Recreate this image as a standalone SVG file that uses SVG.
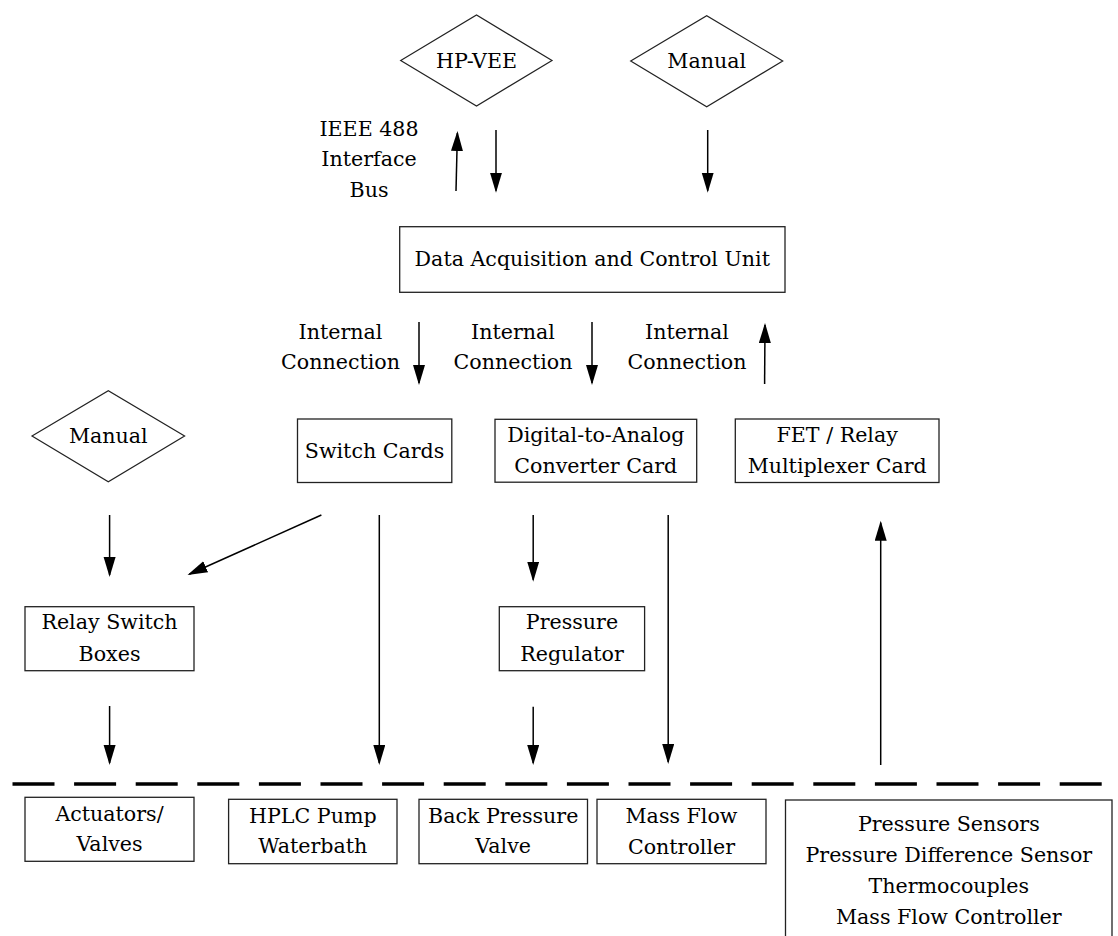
<svg xmlns="http://www.w3.org/2000/svg" width="1118" height="936" viewBox="0 0 1118 936">
<style>
text{font-family:'DejaVu Serif','Noto Serif',serif;font-size:20.6px;fill:#000;text-anchor:middle}
.box{fill:#fff;stroke:#222;stroke-width:1.3}
.dia{fill:#fff;stroke:#222;stroke-width:1.2}
.ar{stroke:#000;stroke-width:1.5;fill:none;marker-end:url(#ah)}
.dash{stroke:#000;stroke-width:3.6;stroke-dasharray:42 19.6;fill:none}
</style>
<defs>
<marker id="ah" markerUnits="userSpaceOnUse" markerWidth="22" markerHeight="14" refX="18" refY="6" orient="auto" viewBox="0 0 22 14">
<path d="M0,0 L20,6 L0,12 z" fill="#000"/>
</marker>
</defs>
<rect width="1118" height="936" fill="#fff"/>

<g id="hpvee">
<polygon class="dia" points="400.7,60.5 476.5,15 552,60.5 476.5,106"/>
<text x="476.5" y="67.5">HP-VEE</text>
</g>
<g id="manual-top">
<polygon class="dia" points="630.7,61 706.7,15.7 782.7,61 706.7,106.7"/>
<text x="706.7" y="67.5">Manual</text>
</g>
<g id="ieee-label">
<text x="369" y="135.5">IEEE 488</text>
<text x="369" y="166">Interface</text>
<text x="369" y="197">Bus</text>
</g>
<g id="dacu">
<rect class="box" x="399.7" y="226.7" width="385.3" height="65.6"/>
<text x="592.3" y="265.5">Data Acquisition and Control Unit</text>
</g>
<g id="internal-labels">
<text x="340.5" y="339">Internal</text>
<text x="340.5" y="369">Connection</text>
<text x="513" y="339">Internal</text>
<text x="513" y="369">Connection</text>
<text x="687" y="339">Internal</text>
<text x="687" y="369">Connection</text>
</g>
<g id="manual-left">
<polygon class="dia" points="32,436 108.3,390.7 184.6,436 108.3,481.7"/>
<text x="108.3" y="442.5">Manual</text>
</g>
<g id="switch-cards">
<rect class="box" x="297.5" y="419" width="154.3" height="63.5"/>
<text x="374.6" y="457.5">Switch Cards</text>
</g>
<g id="dac-card">
<rect class="box" x="495" y="419.3" width="201.7" height="62.9"/>
<text x="595.8" y="441.7">Digital-to-Analog</text>
<text x="595.8" y="472.5">Converter Card</text>
</g>
<g id="fet-card">
<rect class="box" x="735.3" y="419" width="203.7" height="63.5"/>
<text x="837.2" y="442">FET / Relay</text>
<text x="837.2" y="473">Multiplexer Card</text>
</g>
<g id="relay-boxes">
<rect class="box" x="25" y="606.7" width="169" height="64"/>
<text x="109.5" y="629">Relay Switch</text>
<text x="109.5" y="660.5">Boxes</text>
</g>
<g id="pressure-regulator">
<rect class="box" x="499.3" y="606.7" width="145.3" height="64"/>
<text x="572" y="629">Pressure</text>
<text x="572" y="660.5">Regulator</text>
</g>
<g id="actuators">
<rect class="box" x="25" y="797.3" width="169" height="64"/>
<text x="109.5" y="820.7">Actuators/</text>
<text x="109.5" y="850.7">Valves</text>
</g>
<g id="hplc">
<rect class="box" x="228.6" y="799.3" width="168.4" height="64.4"/>
<text x="312.8" y="823">HPLC Pump</text>
<text x="312.8" y="853">Waterbath</text>
</g>
<g id="back-pressure">
<rect class="box" x="419" y="799.3" width="168.5" height="64.4"/>
<text x="503.2" y="823">Back Pressure</text>
<text x="503.2" y="853">Valve</text>
</g>
<g id="mass-flow">
<rect class="box" x="597" y="799.3" width="169" height="64.4"/>
<text x="681.5" y="822.5">Mass Flow</text>
<text x="681.5" y="853.5">Controller</text>
</g>
<g id="sensors">
<rect class="box" x="785.5" y="800" width="326.5" height="150"/>
<text x="948.8" y="830.7">Pressure Sensors</text>
<text x="948.8" y="861.7">Pressure Difference Sensor</text>
<text x="948.8" y="893">Thermocouples</text>
<text x="948.8" y="924">Mass Flow Controller</text>
</g>

<g id="connectors">
<line class="ar" x1="456" y1="191" x2="457.4" y2="133"/>
<line class="ar" x1="496" y1="130" x2="496" y2="190.7"/>
<line class="ar" x1="707.7" y1="130" x2="707.7" y2="190.7"/>
<line class="ar" x1="419" y1="322" x2="419" y2="383"/>
<line class="ar" x1="592" y1="322" x2="592" y2="383"/>
<line class="ar" x1="764.6" y1="384" x2="765" y2="325"/>
<line class="ar" x1="109.6" y1="515" x2="109.6" y2="575"/>
<line class="ar" x1="321.4" y1="515" x2="189.3" y2="574.2"/>
<line class="ar" x1="379.3" y1="515" x2="379.3" y2="763"/>
<line class="ar" x1="533.2" y1="515" x2="533.2" y2="579.7"/>
<line class="ar" x1="668.2" y1="515" x2="668.2" y2="762"/>
<line class="ar" x1="880.7" y1="765" x2="880.7" y2="522.7"/>
<line class="ar" x1="109.6" y1="706" x2="109.6" y2="763"/>
<line class="ar" x1="533.2" y1="706.7" x2="533.2" y2="763"/>
<line class="dash" x1="12.5" y1="784" x2="1102" y2="784"/>
</g>
</svg>
